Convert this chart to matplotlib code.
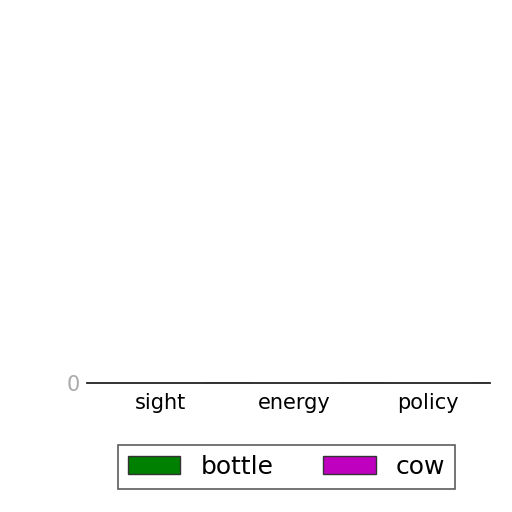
import matplotlib
matplotlib.use("Agg")
import matplotlib.pyplot as plt
import numpy as np

categories = ["sight", "energy", "policy"]
bottle = [0, 0, 0]
cow = [0, 0, 0]

x = np.arange(len(categories))
width = 0.35

fig = plt.figure(figsize=(5.12, 5.12), dpi=100)
ax = fig.add_axes([0.17, 0.252, 0.787, 0.70])

ax.bar(x + 0.5, bottle, width, color="green", edgecolor="#333333", label="bottle")
ax.bar(x + 0.5, cow, width, color="m", edgecolor="#333333", label="cow")

ax.set_xlim(-0.55, 2.46)
ax.set_ylim(0, 1)
ax.set_yticks([0])
ax.set_yticklabels(["0"], color="#aaaaaa", fontsize=15)
ax.set_xticks(x)
ax.set_xticklabels(categories, fontsize=15)
ax.tick_params(axis="x", length=0, pad=7)
ax.tick_params(axis="y", length=0, pad=5)
for s in ["top", "left", "right"]:
    ax.spines[s].set_visible(False)
ax.spines["bottom"].set_color("#222222")
ax.spines["bottom"].set_linewidth(1.3)

leg = fig.legend(loc="center", bbox_to_anchor=(0.560, 0.088), ncol=2,
                 fontsize=18, frameon=True, fancybox=False,
                 handlelength=2.1, handleheight=0.7, columnspacing=2.0,
                 handletextpad=0.8, borderpad=0.4)
leg.get_frame().set_edgecolor("#333333")
leg.get_frame().set_linewidth(1.2)

fig.savefig("out.png", dpi=100)
